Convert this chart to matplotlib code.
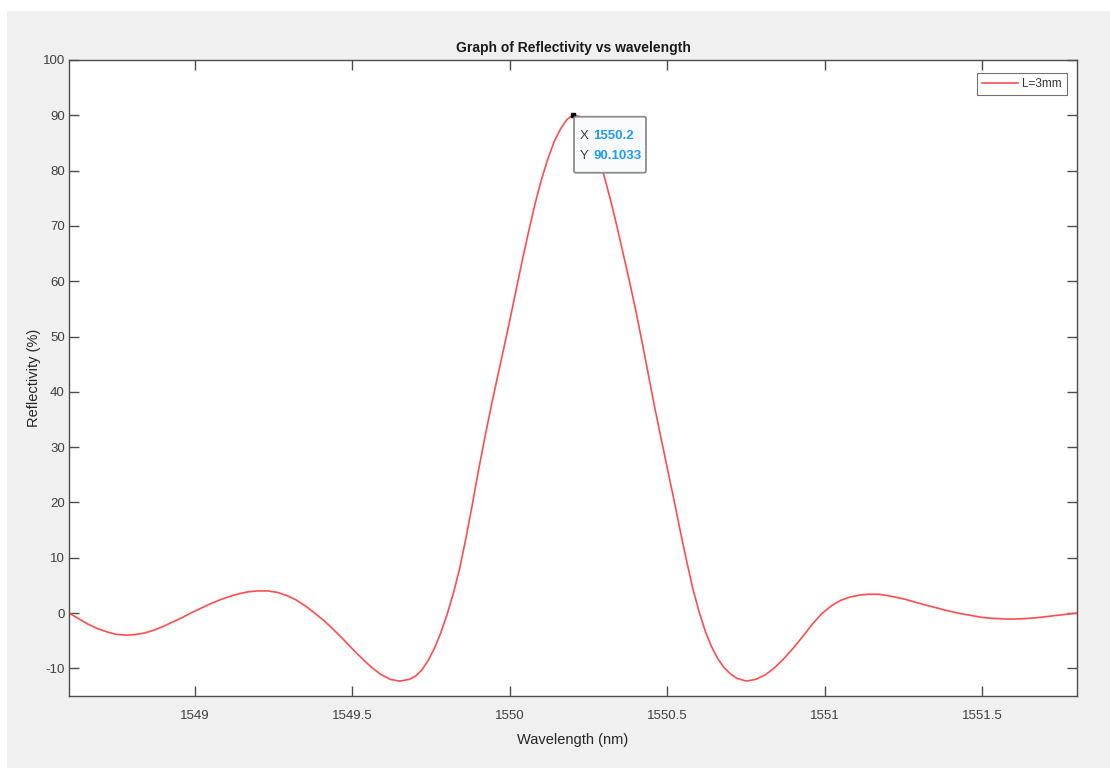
import matplotlib.pyplot as plt
import matplotlib.transforms as mtransforms
from matplotlib.patches import Rectangle, FancyBboxPatch

plt.rcParams['font.family'] = ['Liberation Sans', 'DejaVu Sans']
plt.rcParams['axes.unicode_minus'] = False

# reflectivity spectrum for the 3 mm grating
wavelength = [1548.60, 1548.63, 1548.66, 1548.69, 1548.72, 1548.75, 1548.78,
              1548.81, 1548.84, 1548.87, 1548.90, 1548.93, 1548.96, 1548.99,
              1549.02, 1549.05, 1549.08, 1549.11, 1549.14, 1549.17, 1549.20,
              1549.23, 1549.26, 1549.29, 1549.32, 1549.35, 1549.38, 1549.41,
              1549.44, 1549.47, 1549.50, 1549.53, 1549.56, 1549.59, 1549.62,
              1549.65, 1549.68, 1549.70, 1549.72, 1549.74, 1549.76, 1549.78,
              1549.80, 1549.82, 1549.84, 1549.86, 1549.88, 1549.90, 1549.92,
              1549.94, 1549.96, 1549.98, 1550.00, 1550.02, 1550.04, 1550.06,
              1550.08, 1550.10, 1550.12, 1550.14, 1550.16, 1550.18, 1550.20,
              1550.22, 1550.24, 1550.26, 1550.28, 1550.30, 1550.32, 1550.34,
              1550.36, 1550.38, 1550.40, 1550.42, 1550.44, 1550.46, 1550.48,
              1550.50, 1550.52, 1550.54, 1550.56, 1550.58, 1550.60, 1550.62,
              1550.64, 1550.66, 1550.68, 1550.70, 1550.72, 1550.75, 1550.78,
              1550.81, 1550.84, 1550.87, 1550.90, 1550.93, 1550.96, 1550.99,
              1551.02, 1551.05, 1551.08, 1551.11, 1551.14, 1551.17, 1551.20,
              1551.23, 1551.26, 1551.29, 1551.32, 1551.35, 1551.38, 1551.41,
              1551.44, 1551.47, 1551.50, 1551.53, 1551.56, 1551.59, 1551.62,
              1551.65, 1551.68, 1551.71, 1551.74, 1551.77, 1551.80]
reflectivity = [0.0, -1.0, -2.0, -2.8, -3.4, -3.85, -4.0,
                -3.9, -3.6, -3.1, -2.4, -1.6, -0.8, 0.1,
                0.9, 1.7, 2.4, 3.0, 3.5, 3.85, 4.0,
                4.0, 3.75, 3.2, 2.4, 1.3, 0.0, -1.4,
                -3.0, -4.7, -6.5, -8.2, -9.8, -11.1, -12.0,
                -12.3, -12.0, -11.4, -10.3, -8.6, -6.4, -3.6,
                -0.3, 3.5, 8.0, 13.5, 19.5, 25.8, 31.7,
                37.3, 42.6, 47.8, 53.1, 58.6, 64.0, 69.2,
                74.1, 78.4, 82.1, 85.2, 87.5, 89.2, 90.1,
                89.8, 88.4, 86.0, 82.8, 78.8, 74.5, 69.8,
                64.8, 59.8, 54.5, 48.8, 42.9, 37.0, 31.5,
                26.0, 20.6, 15.0, 9.6, 4.5, 0.3, -3.3,
                -6.1, -8.3, -9.9, -11.0, -11.8, -12.3, -12.0,
                -11.2, -9.9, -8.2, -6.3, -4.2, -2.0, -0.1,
                1.3, 2.3, 2.9, 3.25, 3.4, 3.4, 3.15,
                2.8, 2.4, 1.9, 1.45, 1.0, 0.55, 0.15,
                -0.2, -0.5, -0.8, -0.95, -1.05, -1.1, -1.05,
                -0.95, -0.8, -0.6, -0.4, -0.2, 0.0]

# data tip on the main peak
peak_x = 1550.2
peak_y = 90.1033

xticks = [1549, 1549.5, 1550, 1550.5, 1551, 1551.5]
xtick_labels = ['1549', '1549.5', '1550', '1550.5', '1551', '1551.5']
yticks = [-10, 0, 10, 20, 30, 40, 50, 60, 70, 80, 90, 100]

fig = plt.figure(figsize=(11.1, 7.69), dpi=100)
fig.patch.set_facecolor('white')
fig.patches.append(Rectangle((7 / 1110, 1 / 769), 1, 1 - 12 / 769,
                             transform=fig.transFigure, facecolor='#f0f0f0',
                             edgecolor='none', zorder=-10))

ax = fig.add_axes([69 / 1110, 1 - 696 / 769, (1077 - 69) / 1110, (696 - 60) / 769])
ax.set_facecolor('white')

ax.plot(wavelength, reflectivity, color='#ff4d4d', linewidth=1.2, label='L=3mm')

ax.set_xlim(1548.6, 1551.8)
ax.set_ylim(-15, 100)
ax.set_xticks(xticks)
ax.set_xticklabels(xtick_labels)
ax.set_yticks(yticks)

for s in ax.spines.values():
    s.set_color('#4d4d4d')
    s.set_linewidth(1.0)
ax.tick_params(direction='in', length=7, width=1, colors='#4d4d4d',
               labelcolor='#404040', labelsize=9.5, top=True, right=True)
ax.tick_params(axis='x', pad=10)
ax.tick_params(axis='y', pad=3)

ax.set_title('Graph of Reflectivity vs wavelength', fontsize=10, fontweight='bold',
             color='#1a1a1a', pad=6)
ax.set_xlabel('Wavelength (nm)', fontsize=10.5, color='#262626', labelpad=8)
ax.set_ylabel('Reflectivity (%)', fontsize=10.5, color='#262626', labelpad=1)

leg = ax.legend(loc='upper right', fontsize=8.5, frameon=True, fancybox=False,
                handlelength=3.1, borderpad=0.45, handletextpad=0.3,
                borderaxespad=0, bbox_to_anchor=(0.99, 0.98))
leg.get_frame().set_edgecolor('#4d4d4d')
leg.get_frame().set_linewidth(0.8)
for t in leg.get_texts():
    t.set_color('#333333')

# data tip marker + box
ax.plot([peak_x], [peak_y], marker='s', markersize=3.5, color='black', zorder=6)

def at(dx, dy):
    return mtransforms.offset_copy(ax.transData, fig=fig, x=dx, y=dy, units='dots')

anchor = ax.transData.transform((peak_x, peak_y))
box = FancyBboxPatch((0, 0), 72, 56, boxstyle='round,pad=0,rounding_size=2',
                     facecolor='#fafbff', edgecolor='#8c8c8c', linewidth=1.3,
                     zorder=7, clip_on=False)
box.set_transform(mtransforms.Affine2D().translate(anchor[0] + 1, anchor[1] - 58))
ax.add_artist(box)

ax.text(peak_x, peak_y, 'X', transform=at(7, -21), fontsize=9.5, color='#404040',
        va='center', ha='left', zorder=8)
ax.text(peak_x, peak_y, 'Y', transform=at(7, -41), fontsize=9.5, color='#404040',
        va='center', ha='left', zorder=8)
ax.text(peak_x, peak_y, f'{peak_x:g}', transform=at(20, -21), fontsize=9.5,
        color='#1f9bff', fontweight='bold', va='center', ha='left', zorder=8)
ax.text(peak_x, peak_y, f'{peak_y:g}', transform=at(20, -41), fontsize=9.5,
        color='#1f9bff', fontweight='bold', va='center', ha='left', zorder=8)

fig.savefig('out.png', dpi=100)
